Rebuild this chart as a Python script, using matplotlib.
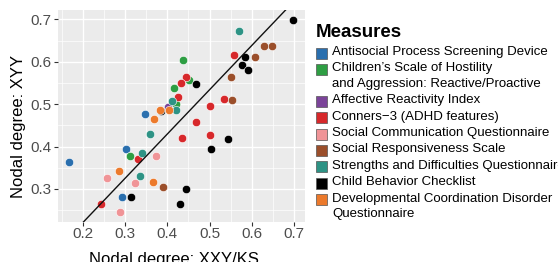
import matplotlib
matplotlib.use("Agg")
import matplotlib.pyplot as plt
from matplotlib.patches import Rectangle
from matplotlib.ticker import MultipleLocator
import numpy as np

plt.rcParams['font.family'] = ['Liberation Sans', 'DejaVu Sans']

# ---------------- data ----------------
measures = [
    "Antisocial Process Screening Device",
    "Children\u2019s Scale of Hostility\nand Aggression: Reactive/Proactive",
    "Affective Reactivity Index",
    "Conners\u22123 (ADHD features)",
    "Social Communication Questionnaire",
    "Social Responsiveness Scale",
    "Strengths and Difficulties Questionnaire",
    "Child Behavior Checklist",
    "Developmental Coordination Disorder\nQuestionnaire",
]
colors = ["#2a6fae", "#2e9e43", "#7b4499", "#d7282b", "#f09497",
          "#9b4f2b", "#2e9385", "#000000", "#ec7a2c"]

apsd_x = [0.168, 0.302, 0.293, 0.346]
apsd_y = [0.364, 0.395, 0.280, 0.477]
csha_x = [0.436, 0.451, 0.415, 0.420, 0.311]
csha_y = [0.603, 0.556, 0.537, 0.500, 0.378]
ari_x = [0.402]
ari_y = [0.493]
conners_x = [0.558, 0.443, 0.433, 0.426, 0.501, 0.534, 0.469, 0.502, 0.435, 0.330, 0.242]
conners_y = [0.617, 0.564, 0.551, 0.516, 0.495, 0.512, 0.459, 0.428, 0.419, 0.370, 0.265]
scq_x = [0.372, 0.258, 0.324, 0.289]
scq_y = [0.378, 0.326, 0.313, 0.245]
srs_x = [0.629, 0.648, 0.607, 0.550, 0.553, 0.390]
srs_y = [0.636, 0.636, 0.612, 0.563, 0.510, 0.305]
sdq_x = [0.569, 0.410, 0.420, 0.359, 0.341, 0.335]
sdq_y = [0.673, 0.507, 0.486, 0.429, 0.384, 0.330]
cbcl_x = [0.697, 0.584, 0.576, 0.591, 0.468, 0.385, 0.543, 0.504, 0.445, 0.430, 0.313]
cbcl_y = [0.698, 0.611, 0.592, 0.581, 0.548, 0.484, 0.417, 0.393, 0.301, 0.265, 0.280]
dcdq_x = [0.383, 0.368, 0.403, 0.286, 0.366]
dcdq_y = [0.487, 0.466, 0.486, 0.343, 0.316]

series_x = [apsd_x, csha_x, ari_x, conners_x, scq_x, srs_x, sdq_x, cbcl_x, dcdq_x]
series_y = [apsd_y, csha_y, ari_y, conners_y, scq_y, srs_y, sdq_y, cbcl_y, dcdq_y]

fit_intercept = 0.012
fit_slope = 1.044

xticks = [0.2, 0.3, 0.4, 0.5, 0.6, 0.7]
yticks = [0.3, 0.4, 0.5, 0.6, 0.7]

# ---------------- figure ----------------
W, H = 558, 262
fig = plt.figure(figsize=(W / 100, H / 100), dpi=100)
L, R, T, B = 58, 305, 10, 222
ax = fig.add_axes([L / W, 1 - B / H, (R - L) / W, (B - T) / H])
ax.set_facecolor("#ebebeb")
for s in ax.spines.values():
    s.set_visible(False)

ax.set_xlim(0.141, 0.726)
ax.set_ylim(0.222, 0.722)
ax.set_xticks(xticks)
ax.set_yticks(yticks)
ax.set_xticklabels([f"{v:.1f}" for v in xticks])
ax.set_yticklabels([f"{v:.1f}" for v in yticks])
ax.xaxis.set_minor_locator(MultipleLocator(0.05))
ax.yaxis.set_minor_locator(MultipleLocator(0.05))
ax.grid(which="major", color="white", linewidth=1.0)
ax.grid(which="minor", color="white", linewidth=0.5)
ax.set_axisbelow(True)
ax.tick_params(which="major", length=3, width=0.8, color="#333333",
               labelsize=11, labelcolor="#4d4d4d")
ax.tick_params(axis="x", which="major", pad=0.8)
ax.tick_params(axis="y", which="major", pad=2)
ax.tick_params(which="minor", length=0)

for xs, ys, c in zip(series_x, series_y, colors):
    ax.scatter(xs, ys, s=36, color=c, edgecolors="white", linewidths=0.4, zorder=3)

ax.axline((0, fit_intercept), slope=fit_slope, color="#111111", linewidth=1.0, zorder=4)

ax.set_xlabel("Nodal degree: XXY/KS", fontsize=12)
ax.set_ylabel("Nodal degree: XYY", fontsize=12)
ax.xaxis.set_label_coords((174 - L) / (R - L), -(252 - B) / (B - T))
ax.yaxis.set_label_coords((26 - L) / (R - L), (B - 126.5) / (B - T))

# ---------------- legend ----------------
def fx(px):
    return px / W

def fy(py):
    return 1 - py / H

fig.text(fx(316), fy(32.5), "Measures", fontsize=13.5, fontweight="bold",
         va="center", ha="left")
item_gap = 16.4
wrap_gap = 15.4
y = 52
for label, c in zip(measures, colors):
    fig.add_artist(Rectangle((fx(316), fy(y + 6.5)), 11 / W, 11 / H,
                             transform=fig.transFigure, facecolor=c,
                             edgecolor="#555555", linewidth=0.5))
    lines = label.split("\n")
    for i, ln in enumerate(lines):
        fig.text(fx(332), fy(y + i * wrap_gap), ln, fontsize=9.5,
                 va="center", ha="left")
    y += wrap_gap * (len(lines) - 1) + item_gap

fig.savefig("out.png", dpi=100)
